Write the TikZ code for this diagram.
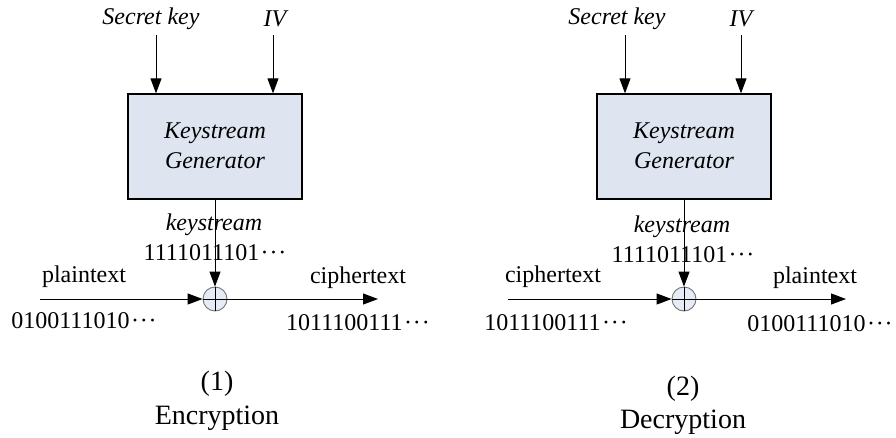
\documentclass[tikz,border=0pt]{standalone}
\usepackage{fontspec}
\setmainfont{Liberation Serif}
\usetikzlibrary{arrows.meta}
\definecolor{boxfill}{HTML}{DEE5F0}
\definecolor{xorfill}{HTML}{E6ECF5}
\newcommand{\mydots}{\kern1.5pt\textperiodcentered\kern0.8pt\textperiodcentered\kern0.8pt\textperiodcentered}
\begin{document}
\begin{tikzpicture}[x=1pt,y=-1pt,
  every node/.style={font=\fontsize{24}{30}\selectfont, inner sep=0pt},
  lbl/.style={anchor=base},
  captext/.style={anchor=base, font=\fontsize{28}{34}\selectfont},
  ilbl/.style={anchor=base, font=\fontsize{24}{30}\selectfont\itshape},
  genbox/.style={draw, line width=1.3pt, fill=boxfill, minimum width=174pt, minimum height=105pt, align=center, font=\fontsize{24}{30}\selectfont\itshape},
  xor/.style={circle, draw=black!55, line width=0.9pt, fill=xorfill, minimum size=24pt},
  arr/.style={line width=1pt, -{Triangle[length=15pt,width=11pt]}},
  ln/.style={line width=1pt}]
\useasboundingbox (0,0) rectangle (896,437);

% ---------- (1) Encryption ----------
\node[ilbl] (sk1) at (151,24) {Secret key};
\node[ilbl] (iv1) at (275,26) {IV};
\node[genbox] (g1) at (215,146.5) {};
\node[ilbl] (g1a) at (215,138) {Keystream};
\node[ilbl] (g1b) at (215,168) {Generator};
\node[xor] (x1) at (215,299) {};
\coordinate (ska1) at (156,35);
\coordinate (iva1) at (273,35);
\draw[arr] (ska1) -- (ska1 |- g1.north);
\draw[arr] (iva1) -- (iva1 |- g1.north);
\node[ilbl] (ks1) at (214,230) {keystream};
\node[lbl] (kb1) at (215,260) {1111011101\mydots};
\draw[arr] (g1.south) -- (x1.north);
\draw[ln] (x1.north) -- (x1.south) (x1.west) -- (x1.east);
\coordinate (in1) at (40,299);
\coordinate (out1) at (378,299);
\draw[arr] (in1) -- (x1.west);
\draw[arr] (x1.east) -- (out1);
\node[lbl] (pt1) at (84,282) {plaintext};
\node[lbl] (pb1) at (84,328) {0100111010\mydots};
\node[lbl] (ct1) at (358,283) {ciphertext};
\node[lbl] (cb1) at (358,330) {1011100111\mydots};
\node[captext] (n1) at (217,390) {(1)};
\node[captext] (e1) at (217,424) {Encryption};

% ---------- (2) Decryption ----------
\node[ilbl] (sk2) at (617,24) {Secret key};
\node[ilbl] (iv2) at (741,26) {IV};
\node[genbox] (g2) at (684,146.5) {};
\node[ilbl] (g2a) at (684,138) {Keystream};
\node[ilbl] (g2b) at (684,168) {Generator};
\node[xor] (x2) at (684,299) {};
\coordinate (ska2) at (625,35);
\coordinate (iva2) at (741,35);
\draw[arr] (ska2) -- (ska2 |- g2.north);
\draw[arr] (iva2) -- (iva2 |- g2.north);
\node[ilbl] (ks2) at (682,232) {keystream};
\node[lbl] (kb2) at (683,262) {1111011101\mydots};
\draw[arr] (g2.south) -- (x2.north);
\draw[ln] (x2.north) -- (x2.south) (x2.west) -- (x2.east);
\coordinate (in2) at (508,299);
\coordinate (out2) at (846,299);
\draw[arr] (in2) -- (x2.west);
\draw[arr] (x2.east) -- (out2);
\node[lbl] (ct2) at (553,282) {ciphertext};
\node[lbl] (cb2) at (556,330) {1011100111\mydots};
\node[lbl] (pt2) at (815,283) {plaintext};
\node[lbl] (pb2) at (820,331) {0100111010\mydots};
\node[captext] (n2) at (683,395) {(2)};
\node[captext] (d2) at (683,428) {Decryption};
\end{tikzpicture}
\end{document}
